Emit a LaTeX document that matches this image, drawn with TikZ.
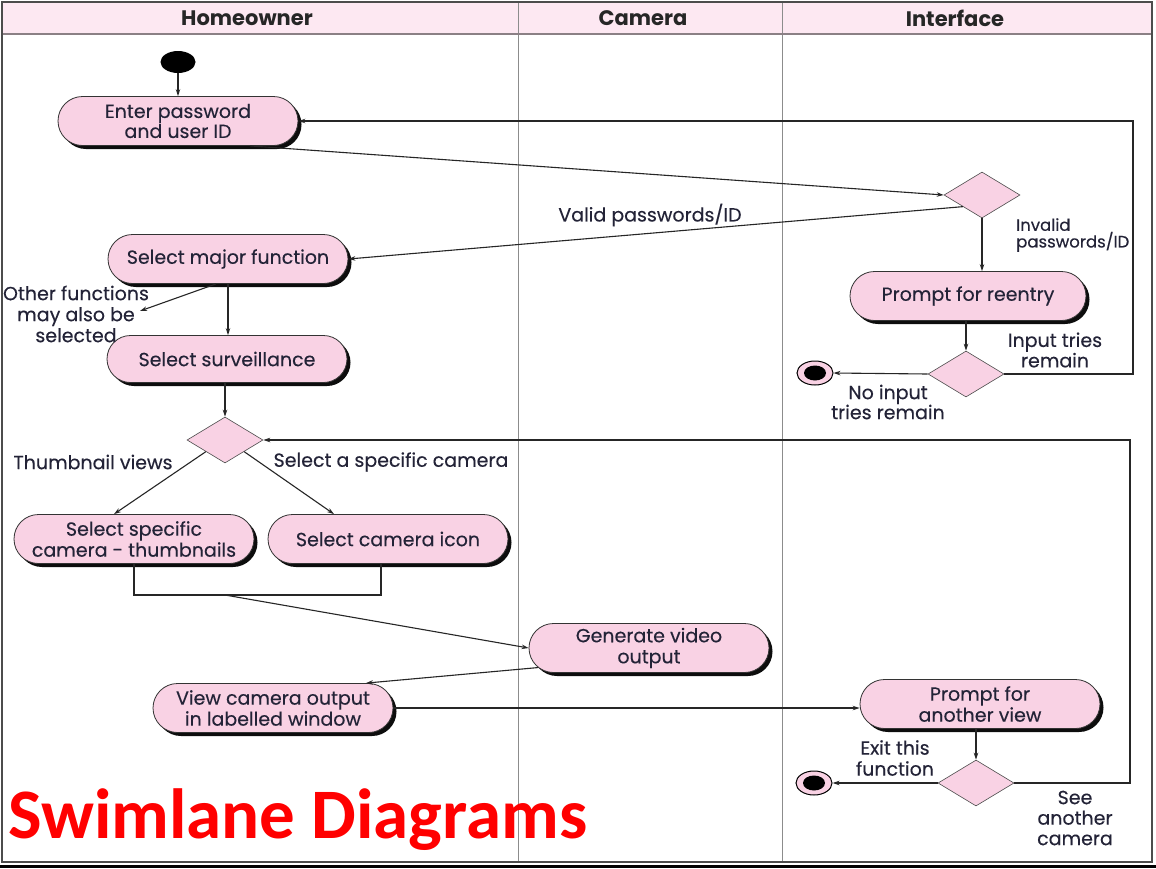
\documentclass[tikz,border=0pt]{standalone}
\usepackage{fontspec}
\setmainfont{Poppins}[FakeBold=0.25]
\newfontfamily\titlefont{Carlito}
\newfontfamily\hdrfont{Poppins}
\usetikzlibrary{shapes.misc,shapes.geometric,shadows,arrows.meta,calc}
\definecolor{nodepink}{RGB}{249,210,228}
\definecolor{hdrpink}{RGB}{253,232,242}
\definecolor{txt}{RGB}{35,35,55}
\definecolor{lanegray}{RGB}{140,140,140}
\definecolor{titlered}{RGB}{255,0,0}
\tikzset{
  act/.style={rounded rectangle, draw=black!80, line width=0.8pt, fill=nodepink, text=txt,
    font=\fontsize{19}{21}\selectfont, align=center, inner sep=2pt,
    minimum width=244pt, minimum height=49pt,
    drop shadow={shadow xshift=3.5pt, shadow yshift=-3.5pt, fill=black, opacity=0.95}},
  dec/.style={diamond, draw=black!70, line width=0.6pt, fill=nodepink,
    minimum width=76pt, minimum height=46pt, inner sep=0pt},
  lbl/.style={text=txt, font=\fontsize{19}{21}\selectfont, align=center, inner sep=0pt},
  hdr/.style={text=black!85, font=\hdrfont\bfseries\fontsize{21}{22}\selectfont, inner sep=0pt},
  arr/.style={line width=1.1pt, draw=black!85, -{Stealth[length=7pt,width=4.5pt]}},
  conn/.style={line width=1.1pt, draw=black!85},
  fin/.style={ellipse, draw=black, line width=1pt, fill=nodepink, minimum width=36pt,
    minimum height=24pt, inner sep=0pt,
    path picture={\fill[black] (path picture bounding box.center) ellipse [x radius=11pt, y radius=7.5pt];}},
  startnode/.style={ellipse, fill=black, minimum width=35pt, minimum height=22pt, inner sep=0pt},
}
\begin{document}
\begin{tikzpicture}[x=1pt,y=-1pt]
\useasboundingbox (0,0) rectangle (1156,868);
\fill[white] (0,0) rectangle (1156,868);
% header and lanes
\fill[hdrpink] (2,2) rectangle (1152,34);
\draw[lanegray, line width=0.8pt] (518,2) -- (518,862);
\draw[lanegray, line width=0.8pt] (782,2) -- (782,862);
\draw[black!45!hdrpink, line width=2pt] (2,34) -- (1152,34);
\draw[black!70, line width=1.2pt] (2,2) rectangle (1152,862);
\draw[black, line width=2.5pt] (0,866.5) -- (1156,866.5);
\node[hdr] (h1) at (247,18) {Homeowner};
\node[hdr] (h2) at (643,18) {Camera};
\node[hdr] (h3) at (955,18) {Interface};

% nodes
\node[startnode] (start) at (178,62) {};
\node[act, font=\fontsize{19}{18}\selectfont] (enter) at (178,121) {Enter password\\and user ID};
\node[dec] (d1) at (982,195) {};
\node[act] (smf) at (228,259) {Select major function};
\node[act, minimum height=47pt] (surv) at (227,359) {Select surveillance};
\node[dec] (d2) at (225,440) {};
\node[act] (thumb) at (134,539) {Select specific\\camera - thumbnails};
\node[act] (cam) at (388,539) {Select camera icon};
\node[act] (gen) at (649,648) {Generate video\\output};
\node[act] (view) at (273,708) {View camera output\\in labelled window};
\node[act, minimum width=240pt] (prr) at (968,296) {Prompt for reentry};
\node[dec] (d3) at (966,374) {};
\node[fin] (f1) at (815,373) {};
\node[act] (pav) at (980,704) {Prompt for\\another view};
\node[dec] (d4) at (976,783) {};
\node[fin] (f2) at (814,783) {};

\coordinate (other) at (140,311);
\coordinate (loopA) at (1133,0);
\coordinate (loopB) at (1130,0);
\coordinate (join) at (225,595);

% connectors
\draw[arr] (start) -- (start |- enter.north);
\draw[arr] ($(enter.south)+(72,0)$) -- (d1.west);
\draw[arr] (d1.south west) -- (smf.east);
\draw[arr] (d1.south) -- (d1.south |- prr.north);
\draw[arr] (d3.north |- prr.south) -- (d3.north);
\draw[arr] (d3.west) -- (f1.east);
\draw[arr] (d3.east) -| (loopA |- enter.east) -- (enter.east);
\draw[arr] (smf.south) -- (smf.south |- surv.north);
\draw[arr] ($(smf.south)+(-12,0)$) -- (other);
\draw[arr] (d2.north |- surv.south) -- (d2.north);
\draw[arr] (d2.south west) -- ($(thumb.north)+(-20,0)$);
\draw[arr] (d2.south east) -- ($(cam.north)+(-54,0)$);
\draw[conn] (thumb.south) -- (thumb.south |- join) -- ($(cam.south |- join)+(-7,0)$) -- ($(cam.south)+(-7,0)$);
\draw[arr] (join) -- (gen.west);
\draw[arr] (gen.190) -- (view.15);
\draw[arr] (view.east) -- (view.east -| pav.west);
\draw[arr] (d4.north |- pav.south) -- (d4.north);
\draw[arr] (d4.west) -- (f2.east);
\draw[arr] (d4.east) -| (loopB |- d2.east) -- (d2.east);

% labels
\node[lbl, align=left, anchor=west, font=\fontsize{16.5}{15}\selectfont] (l2) at (1016,235) {Invalid\\passwords/ID};
\node[lbl] (l1) at (650,215) {Valid passwords/ID};
\node[lbl] (l3) at (76,314) {Other functions\\may also be\\selected};
\node[lbl, font=\fontsize{19}{14}\selectfont] (l4) at (1055,350) {Input tries\\remain};
\node[lbl, font=\fontsize{19}{20}\selectfont] (l5) at (888,402) {No input\\tries remain};
\node[lbl] (l6) at (93,462) {Thumbnail views};
\node[lbl] (l7) at (391,462) {Select a specific camera};
\node[lbl] (l8) at (895,758) {Exit this\\function};
\node[lbl, font=\fontsize{19}{20.5}\selectfont] (l9) at (1075,818) {See\\another\\camera};

% title
\node[anchor=base west, inner sep=0pt, text=titlered, font=\titlefont\bfseries\fontsize{71}{76}\selectfont] (title) at (8,838) {Swimlane Diagrams};
\end{tikzpicture}
\end{document}
